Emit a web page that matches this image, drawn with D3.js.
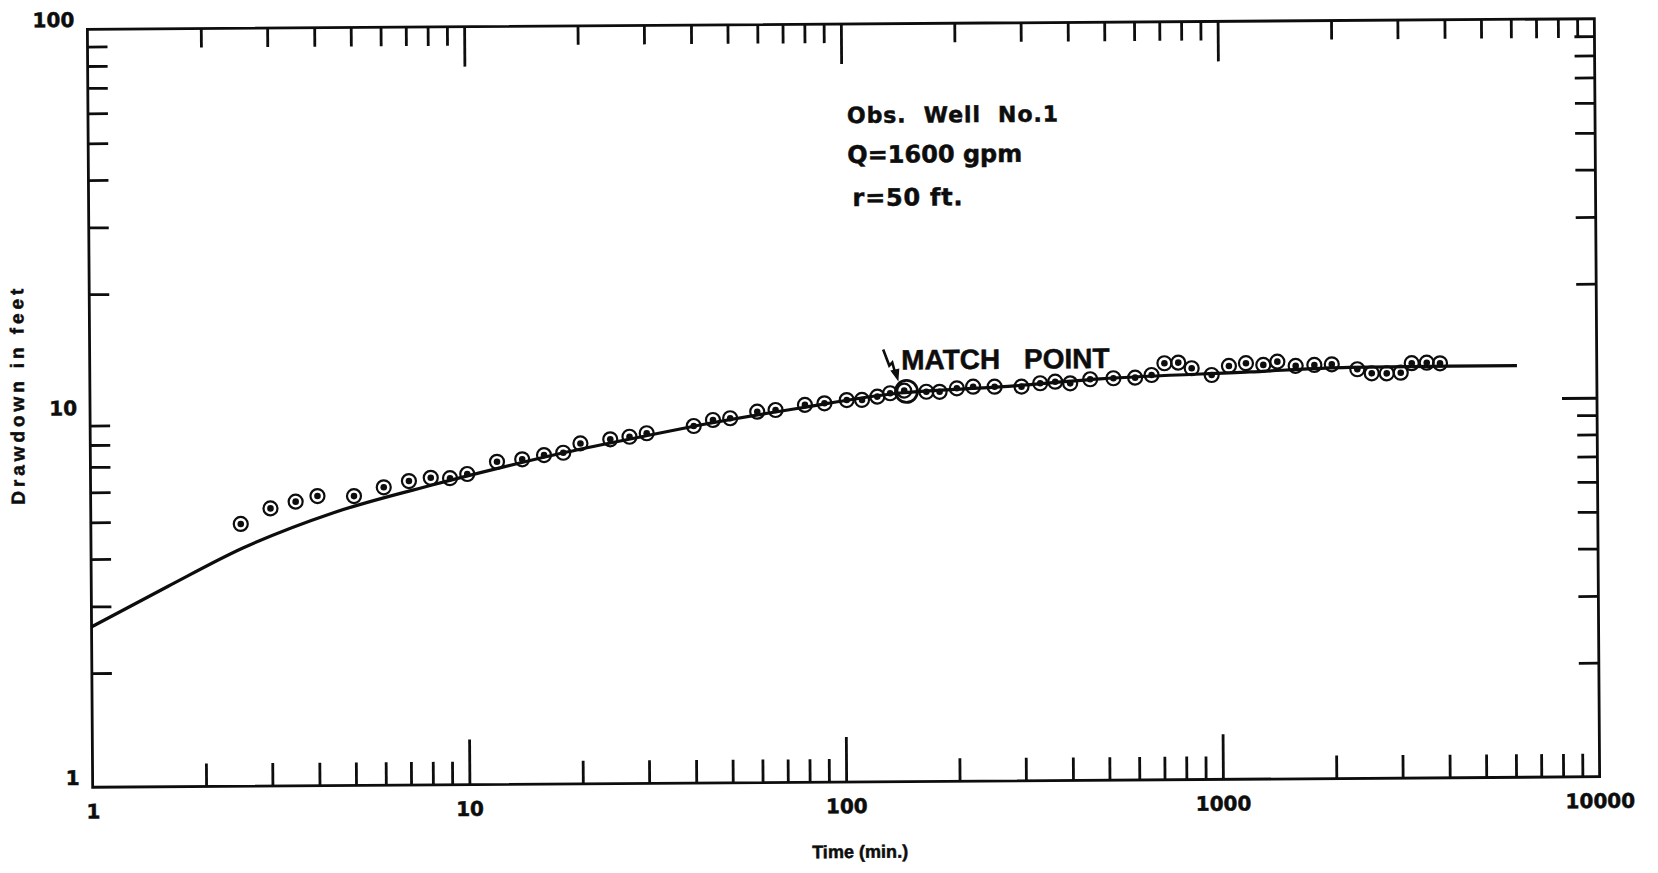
<!DOCTYPE html>
<html>
<head>
<meta charset="utf-8">
<script src="https://cdn.jsdelivr.net/npm/d3@7"></script>
<style>
  body { margin: 0; background: #fff; }
  svg { display: block; }
  text { font-weight: bold; fill: #0d0d0d; stroke: #0d0d0d; stroke-width: 0.5px; }
</style>
</head>
<body>
<div id="chart"></div>
<script>
const timeMin = [2.5, 3, 3.5, 4, 5, 6, 7, 8, 9, 10, 12, 14, 16, 18, 20, 24, 27, 30, 40, 45,
  50, 59, 66, 79, 89, 102, 112, 123, 133, 145, 166, 180, 200, 221, 252, 297, 333, 365, 400, 452,
  521, 595, 658, 712, 775, 841, 950, 1056, 1172, 1303, 1420, 1588, 1780, 1980, 2314, 2527, 2770, 3017, 3228, 3538, 3837];
const drawdownFt = [4.92, 5.40, 5.62, 5.81, 5.80, 6.11, 6.34, 6.46, 6.44, 6.60, 7.10, 7.20, 7.38, 7.48, 7.91, 8.10, 8.22, 8.39, 8.75, 9.07,
  9.16, 9.52, 9.61, 9.90, 9.99, 10.18, 10.18, 10.38, 10.59, 10.75, 10.67, 10.66, 10.88, 10.98, 10.97, 10.96, 11.18, 11.28, 11.16, 11.43,
  11.49, 11.52, 11.70, 12.56, 12.60, 12.17, 11.67, 12.32, 12.52, 12.38, 12.62, 12.29, 12.35, 12.39, 12.01, 11.71, 11.70, 11.74, 12.43, 12.46, 12.41];

// type curve traced by hand
const curveTime = [1, 1.6, 2.53, 4.39, 8.11, 12.2, 18.4, 30.6, 41.6, 76.7, 141, 260, 480, 1200, 2200, 4080, 6140];
const curveDrawdown = [2.65, 3.38, 4.25, 5.24, 6.19, 6.84, 7.51, 8.30, 8.80, 9.72, 10.6, 10.95, 11.45, 11.87, 12.15, 12.2, 12.2];

const matchPoint = [147, 10.7];

// ticks
const xLabels = [1, 10, 100, 1000, 10000];
const xMajorTicks = [10, 100, 1000];
const xMinorTicks = [2, 3, 4, 5, 6, 7, 8, 9, 20, 30, 40, 50, 60, 70, 80, 90,
  200, 300, 400, 500, 600, 700, 800, 900, 2000, 3000, 4000, 5000, 6000, 7000, 8000, 9000];
const yLabels = [1, 10, 100];
const yMinorTicks = [2, 3, 4, 5, 6, 7, 8, 9, 20, 30, 40, 50, 60, 70, 80, 90];
const yMajorRight = [10];

const infoLines = ["Obs.  Well  No.1", "Q=1600 gpm", "r=50 ft."];

const W = 1658, H = 873;
const margin = {left: 90, right: 1597, top: 24, bottom: 782};

const svg = d3.select("#chart").append("svg")
  .attr("width", W).attr("height", H);

// the scanned sheet sits a little askew
const g = svg.append("g").attr("transform", "rotate(-0.4, 843, 403)");

const x = d3.scaleLog().domain([1, 10000]).range([margin.left, margin.right]);
const y = d3.scaleLog().domain([1, 100]).range([margin.bottom, margin.top]);

function tickAxis(axis, tx, ty) {
  const a = g.append("g")
    .attr("transform", "translate(" + tx + "," + ty + ")")
    .call(axis);
  a.select(".domain").remove();
  a.selectAll("line").attr("stroke", "#0d0d0d").attr("stroke-width", 2.8);
  return a;
}

// bottom + top ticks, pointing inward
tickAxis(d3.axisBottom(x).tickValues(xMinorTicks).tickSize(-23).tickFormat(""), 0, margin.bottom);
tickAxis(d3.axisBottom(x).tickValues(xMajorTicks).tickSize(-45).tickFormat(""), 0, margin.bottom);
tickAxis(d3.axisTop(x).tickValues(xMinorTicks).tickSize(-19).tickFormat(""), 0, margin.top);
tickAxis(d3.axisTop(x).tickValues(xMajorTicks).tickSize(-40).tickFormat(""), 0, margin.top);
// left + right
tickAxis(d3.axisLeft(y).tickValues(yMinorTicks).tickSize(-20).tickFormat(""), margin.left, 0);
tickAxis(d3.axisRight(y).tickValues(yMinorTicks).tickSize(-20).tickFormat(""), margin.right, 0);
tickAxis(d3.axisRight(y).tickValues(yMajorRight).tickSize(-35).tickFormat(""), margin.right, 0);

// frame
g.append("rect")
  .attr("x", margin.left).attr("y", margin.top)
  .attr("width", margin.right - margin.left).attr("height", margin.bottom - margin.top)
  .attr("fill", "none").attr("stroke", "#0d0d0d").attr("stroke-width", 2.8);

// tick labels
const xl = g.append("g")
  .attr("transform", "translate(0," + margin.bottom + ")")
  .call(d3.axisBottom(x).tickValues(xLabels).tickSize(0).tickPadding(17).tickFormat(d3.format("d")));
xl.select(".domain").remove();
xl.selectAll("text").attr("font-family", "DejaVu Sans").attr("font-size", 20).attr("fill", "#0d0d0d");

const yl = g.append("g")
  .attr("transform", "translate(" + margin.left + ",0)")
  .call(d3.axisLeft(y).tickValues(yLabels).tickSize(0).tickPadding(13).tickFormat(d3.format("d")));
yl.select(".domain").remove();
yl.selectAll("text").attr("font-family", "DejaVu Sans").attr("font-size", 20).attr("fill", "#0d0d0d")
  .attr("dy", d => d === 10 ? "0.32em" : "-0.15em");

// axis titles
g.append("text")
  .attr("transform", "translate(24,391) rotate(-90)")
  .attr("text-anchor", "middle")
  .attr("font-family", "Liberation Sans").attr("font-size", 19)
  .attr("textLength", 216).attr("lengthAdjust", "spacing")
  .text("Drawdown in feet");

g.append("text")
  .attr("x", 857).attr("y", 858)
  .attr("text-anchor", "middle")
  .attr("font-family", "Liberation Sans").attr("font-size", 18)
  .attr("textLength", 96).attr("lengthAdjust", "spacing")
  .text("Time (min.)");

// info block
const infoY = [123, 163, 206];
const infoX = [849, 849, 854];
const infoLen = [211, 175, 110];
g.selectAll(".info").data(infoLines).enter().append("text")
  .attr("class", "info")
  .attr("x", (d, i) => infoX[i]).attr("y", (d, i) => infoY[i])
  .attr("font-family", "DejaVu Sans").attr("font-size", (d, i) => i === 0 ? 22 : 24)
  .attr("textLength", (d, i) => infoLen[i]).attr("lengthAdjust", "spacing")
  .style("white-space", "pre")
  .text(d => d);

// type curve
const line = d3.line()
  .x(d => x(d[0]))
  .y(d => y(d[1]))
  .curve(d3.curveMonotoneX);

g.append("path")
  .datum(curveTime.map((t, i) => [t, curveDrawdown[i]]))
  .attr("d", line)
  .attr("fill", "none")
  .attr("stroke", "#0d0d0d")
  .attr("stroke-width", 3.2);

// data points: ring with a dot in it
const pts = g.selectAll(".pt")
  .data(timeMin.map((t, i) => [t, drawdownFt[i]]))
  .enter().append("g")
  .attr("class", "pt")
  .attr("transform", d => "translate(" + x(d[0]) + "," + y(d[1]) + ")");
pts.append("circle").attr("r", 7)
  .attr("fill", "none").attr("stroke", "#0d0d0d").attr("stroke-width", 2.2);
pts.append("circle").attr("r", 3.3).attr("fill", "#0d0d0d");

// match point
const mx = x(matchPoint[0]), my = y(matchPoint[1]);
g.append("circle")
  .attr("cx", mx).attr("cy", my).attr("r", 11)
  .attr("fill", "none").attr("stroke", "#0d0d0d").attr("stroke-width", 2.8);

g.append("text")
  .attr("x", mx - 5).attr("y", my - 22)
  .attr("font-family", "Liberation Sans").attr("font-size", 28)
  .style("word-spacing", "16px")
  .text("MATCH POINT");

// little arrow pointing at the match point
g.append("path")
  .attr("d", "M" + (mx - 23) + "," + (my - 42) + " L" + (mx - 17) + "," + (my - 26) +
    " L" + (mx - 14) + "," + (my - 29) + " L" + (mx - 11) + "," + (my - 18))
  .attr("fill", "none").attr("stroke", "#0d0d0d").attr("stroke-width", 2.6);
g.append("path")
  .attr("d", "M" + (mx - 16) + "," + (my - 21) + " L" + (mx - 8) + "," + (my - 10) + " L" + (mx - 7) + "," + (my - 23) + "Z")
  .attr("fill", "#0d0d0d");
</script>
</body>
</html>
